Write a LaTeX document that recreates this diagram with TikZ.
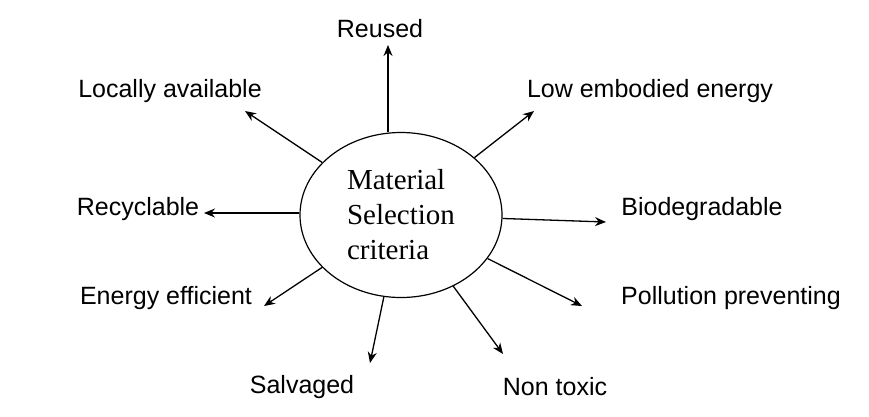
\documentclass[tikz,border=0pt]{standalone}
\usepackage{fontspec}
\setmainfont{Liberation Serif}
\newfontfamily\labelfont{Liberation Sans}
\usetikzlibrary{arrows.meta,shapes.geometric}

\begin{document}
\begin{tikzpicture}[x=1pt,y=-1pt,
  crit/.style={font=\labelfont\fontsize{25}{30}\selectfont},
  arr/.style={-{Stealth[length=11pt,width=9pt]},line width=1.3pt}]
	\useasboundingbox (0,0) rectangle (869,416);
	\node[draw,ellipse,line width=1.2pt,minimum width=202pt,minimum height=165pt,inner sep=0pt,
	      align=left,font=\fontsize{29}{35}\selectfont] (c) at (401,215) {Material\\Selection\\criteria};
	
	\node[crit] (t1) at (380,29) {Reused};
	\node[crit] (t2) at (650,91) {Low embodied energy};
	\node[crit] (t3) at (702,209) {Biodegradable};
	\node[crit] (t4) at (731,298) {Pollution preventing};
	\node[crit] (t5) at (555,387) {Non toxic};
	\node[crit] (t6) at (302,387) {Salvaged};
	\node[crit] (t7) at (166,298) {Energy efficient};
	\node[crit] (t8) at (138,209) {Recyclable};
	\node[crit] (t9) at (170,91) {Locally available};
	
	\coordinate (e1) at (388,45);
	\coordinate (e2) at (534,111);
	\coordinate (e3) at (606,222);
	\coordinate (e4) at (582,306);
	\coordinate (e5) at (503,354);
	\coordinate (e6) at (370,363);
	\coordinate (e7) at (264,306);
	\coordinate (e8) at (204,213);
	\coordinate (e9) at (245,111);
	
	\draw[arr] (c.north -| e1) -- (e1);
	\draw[arr] (c) -- (e2);
	\draw[arr] (c) -- (e3);
	\draw[arr] (c) -- (e4);
	\draw[arr] (c) -- (e5);
	\draw[arr] (c) -- (e6);
	\draw[arr] (c) -- (e7);
	\draw[arr] (c.west |- e8) -- (e8);
	\draw[arr] (c) -- (e9);
\end{tikzpicture}
\end{document}
